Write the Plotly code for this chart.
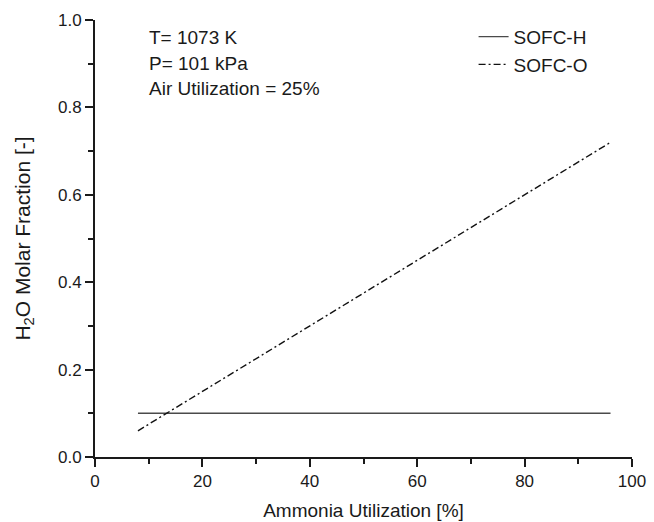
import plotly.graph_objects as go

ammonia_util_h = [8, 96]
h2o_frac_h = [0.10, 0.10]
ammonia_util_o = [8, 96]
h2o_frac_o = [0.06, 0.72]

x_ticks = [0, 20, 40, 60, 80, 100]
y_ticks = [0.0, 0.2, 0.4, 0.6, 0.8, 1.0]
y_tick_labels = ["0.0", "0.2", "0.4", "0.6", "0.8", "1.0"]
conditions = ["T= 1073 K", "P= 101 kPa", "Air Utilization = 25%"]
condition_y = [0.959, 0.900, 0.843]

FONT = "Liberation Sans, Arial, sans-serif"
INK = "#1a1a1a"

fig = go.Figure()
fig.add_trace(go.Scatter(x=ammonia_util_h, y=h2o_frac_h, mode="lines", name="SOFC-H",
                         line=dict(color="#4a4a4a", width=1.4)))
fig.add_trace(go.Scatter(x=ammonia_util_o, y=h2o_frac_o, mode="lines", name="SOFC-O",
                         line=dict(color="#111111", width=1.4, dash="7px,3px,2px,3px")))

for t, yy in zip(conditions, condition_y):
    fig.add_annotation(x=0.097, y=yy, xref="paper", yref="paper",
                       text=t, showarrow=False, xanchor="left", yanchor="middle",
                       font=dict(family=FONT, size=19, color=INK))

axis_common = dict(showline=True, linecolor=INK, linewidth=2, ticks="outside",
                   ticklen=8, tickwidth=1.6, tickcolor=INK, showgrid=False,
                   zeroline=False, mirror=False, automargin=False,
                   tickfont=dict(family=FONT, size=17, color=INK))

fig.update_xaxes(range=[0, 100], tickvals=x_ticks,
                 minor=dict(ticks="outside", ticklen=5, tickwidth=1.6, tickcolor=INK, dtick=10, tick0=0),
                 title=dict(text="Ammonia Utilization [%]", font=dict(family=FONT, size=19, color=INK), standoff=13),
                 **axis_common)
fig.update_yaxes(range=[0, 1.0], tickvals=y_ticks, ticktext=y_tick_labels,
                 minor=dict(ticks="outside", ticklen=5, tickwidth=1.6, tickcolor=INK, dtick=0.1, tick0=0),
                 title=dict(text="H<sub>2</sub>O Molar Fraction [-]", font=dict(family=FONT, size=21, color=INK), standoff=22),
                 **axis_common)

fig.update_layout(
    width=654, height=522,
    margin=dict(l=95, r=22, t=20, b=65, pad=0),
    plot_bgcolor="white", paper_bgcolor="white",
    legend=dict(x=0.705, y=1.005, xanchor="left", yanchor="top",
                font=dict(family=FONT, size=19, color=INK),
                bgcolor="rgba(0,0,0,0)", tracegroupgap=0),
    showlegend=True,
)

fig.write_html("out.html", config={"displayModeBar": False},
               post_script="document.body.style.margin='0';document.body.style.overflow='hidden';")
